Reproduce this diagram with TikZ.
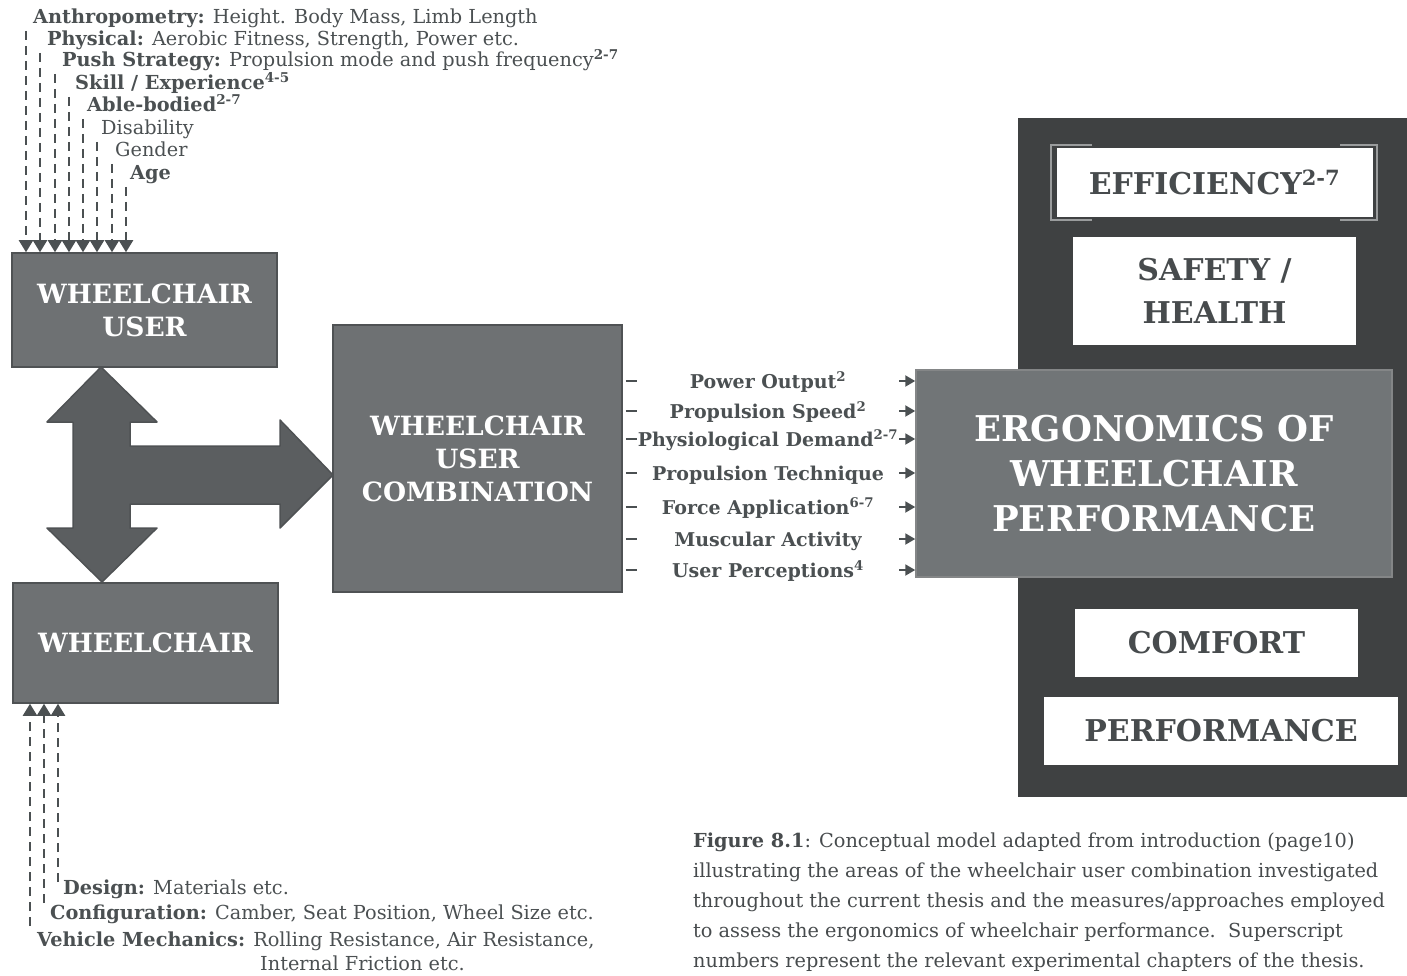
\documentclass[tikz,border=0pt]{standalone}
\usepackage{fontspec}
\setmainfont{DejaVu Serif}
\usetikzlibrary{arrows.meta}
\definecolor{boxfill}{HTML}{6E7173}
\definecolor{boxline}{HTML}{4F5254}
\definecolor{arrowfill}{HTML}{5B5E60}
\definecolor{panel}{HTML}{3F4142}
\definecolor{ergfill}{HTML}{717577}
\definecolor{lbltext}{HTML}{4B5052}
\definecolor{boxtext}{HTML}{474B4D}
\definecolor{bracket}{HTML}{9A9C9D}
\begin{document}
\begin{tikzpicture}[x=1pt,y=-1pt,
  box/.style={draw=boxline, line width=1.5pt, fill=boxfill, text=white,
    font=\bfseries\fontsize{26.5}{33}\selectfont, align=center, inner sep=0pt},
  wbox/.style={fill=white, draw=none, text=boxtext,
    font=\bfseries\fontsize{30}{43}\selectfont, align=center, inner sep=0pt},
  lbl/.style={text=lbltext, font=\fontsize{19.3}{24}\selectfont, inner sep=0pt},
  mlbl/.style={text=lbltext, font=\bfseries\fontsize{19}{24}\selectfont, inner sep=0pt, anchor=base},
  dasharrow/.style={draw=lbltext, line width=2.2pt, dash pattern=on 9pt off 6pt,
    -{Triangle[width=14pt,length=12pt]}},
  tickline/.style={draw=lbltext, line width=2pt},
  rarrow/.style={draw=lbltext, line width=2pt, -{Triangle[width=11pt,length=10pt]}},
  bigarrow/.style={fill=arrowfill, draw=boxline, line width=1.5pt, line join=round}
]
\useasboundingbox (0,0) rectangle (1407,976);

% ---- right dark panel ----
\fill[panel] (1018,118) rectangle (1407,797);

% ---- boxes ----
\node[box, minimum width=265pt, minimum height=114pt] (user) at (144.5,310) {WHEELCHAIR\\USER};
\node[box, minimum width=265pt, minimum height=120pt] (chair) at (145.5,643) {WHEELCHAIR};
\node[box, minimum width=289pt, minimum height=267pt] (wuc) at (477.5,458.5) {WHEELCHAIR\\USER\\COMBINATION};
\node[box, fill=ergfill, draw=boxline!70, minimum width=476pt, minimum height=207pt,
  font=\bfseries\fontsize{35.5}{45}\selectfont] (erg) at (1154,473.5) {ERGONOMICS OF\\WHEELCHAIR\\PERFORMANCE};

% ---- white boxes in panel ----
\draw[bracket, line width=1.2pt] (1092,145) -- (1051,145) -- (1051,220) -- (1092,220);
\draw[bracket, line width=1.2pt] (1340,145) -- (1377,145) -- (1377,220) -- (1340,220);
\node[wbox, minimum width=316pt, minimum height=69pt] (eff) at (1214.5,182.5) {EFFICIENCY\textsuperscript{2-7}};
\node[wbox, minimum width=283pt, minimum height=108pt] (safe) at (1214.5,291) {SAFETY /\\HEALTH};
\node[wbox, minimum width=283pt, minimum height=68pt] (comf) at (1216.5,643) {COMFORT};
\node[wbox, minimum width=354pt, minimum height=68pt] (perf) at (1221,731) {PERFORMANCE};

% ---- cross arrow ----
\path[bigarrow] (101,367) -- (157,422) -- (130,422) -- (130,446) -- (280,446) -- (280,420)
  -- (333,475) -- (280,528) -- (280,504) -- (130,504) -- (130,528) -- (157,528)
  -- (102,582) -- (47,528) -- (73,528) -- (73,422) -- (47,422) -- cycle;

% ---- top labels ----
\node[lbl, anchor=base west] (a1) at (33,24) {\textbf{Anthropometry:} Height. Body Mass, Limb Length};
\node[lbl, anchor=base west] (a2) at (47,46) {\textbf{Physical:} Aerobic Fitness, Strength, Power etc.};
\node[lbl, anchor=base west] (a3) at (62,67) {\textbf{Push Strategy:} Propulsion mode and push frequency\textsuperscript{\textbf{2-7}}};
\node[lbl, anchor=base west] (a4) at (75,90) {\textbf{Skill / Experience\textsuperscript{4-5}}};
\node[lbl, anchor=base west] (a5) at (87,112) {\textbf{Able-bodied\textsuperscript{2-7}}};
\node[lbl, anchor=base west] (a6) at (101,135) {Disability};
\node[lbl, anchor=base west] (a7) at (115,157) {Gender};
\node[lbl, anchor=base west] (a8) at (130,180) {\textbf{Age}};

\coordinate (s1) at (26,31);
\coordinate (s2) at (40,53);
\coordinate (s3) at (55,74);
\coordinate (s4) at (69,97);
\coordinate (s5) at (83,119);
\coordinate (s6) at (97,142);
\coordinate (s7) at (112,164);
\coordinate (s8) at (126,187);
\foreach \i in {1,...,8} \draw[dasharrow] (s\i) -- (s\i |- user.north);

% ---- bottom labels ----
\node[lbl, anchor=base west] (b1) at (63,894) {\textbf{Design:} Materials etc.};
\node[lbl, anchor=base west] (b2) at (50,919) {\textbf{Configuration:} Camber, Seat Position, Wheel Size etc.};
\node[lbl, anchor=base west] (b3) at (37,946) {\textbf{Vehicle Mechanics:} Rolling Resistance, Air Resistance,};
\node[lbl, anchor=base west] (b4) at (260,970) {Internal Friction etc.};

\coordinate (d1) at (58,882);
\coordinate (d2) at (44,903);
\coordinate (d3) at (30,926);
\foreach \i in {1,2,3} \draw[dasharrow] (d\i) -- (d\i |- chair.south);

% ---- measures ----
\foreach \n/\yc/\txt in {1/381/{Power Output\textsuperscript{2}},
                         2/411/{Propulsion Speed\textsuperscript{2}},
                         3/439/{Physiological Demand\textsuperscript{2-7}},
                         4/473/{Propulsion Technique},
                         5/507/{Force Application\textsuperscript{6-7}},
                         6/539/{Muscular Activity},
                         7/570/{User Perceptions\textsuperscript{4}}}{
  \node[mlbl] (m\n) at (768,\yc+7) {\txt};
  \coordinate (r\n) at (899,\yc);
  \draw[tickline] ([xshift=3pt]wuc.east |- r\n) -- ++(11,0);
  \draw[rarrow] (r\n) -- (erg.west |- r\n);
}

% ---- caption ----
\node[lbl, text=boxtext, anchor=base west, align=left, font=\fontsize{19.3}{30}\selectfont] (cap) at (693,967)
 {\textbf{Figure 8.1}: Conceptual model adapted from introduction (page10)\\
  illustrating the areas of the wheelchair user combination investigated\\
  throughout the current thesis and the measures/approaches employed\\
  to assess the ergonomics of wheelchair performance.\ \ Superscript\\
  numbers represent the relevant experimental chapters of the thesis.};
\end{tikzpicture}
\end{document}
